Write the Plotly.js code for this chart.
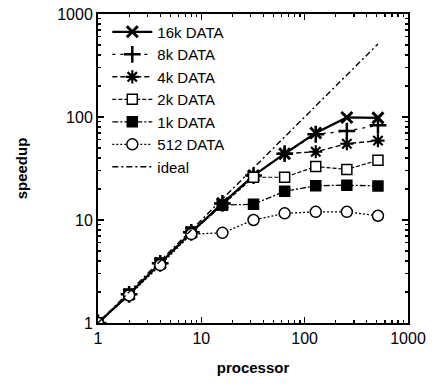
<!DOCTYPE html>
<html><head><meta charset="utf-8">
<script src="https://cdn.plot.ly/plotly-3.0.1.min.js"></script>
<style>html,body{margin:0;padding:0;background:#fff}#chart{width:439px;height:388px}</style>
</head><body><div id="chart"></div>
<script>
const processors = [1, 2, 4, 8, 16, 32, 64, 128, 256, 512];
const speedup16k = [1, 1.9, 3.8, 7.6, 14.5, 27, 44, 70, 99, 98];
const speedup8k  = [1, 1.9, 3.8, 7.6, 14.5, 27, 44, 68, 73, 83];
const speedup4k  = [1, 1.9, 3.8, 7.6, 14.5, 27, 44, 46, 55, 59];
const speedup2k  = [1, 1.9, 3.8, 7.6, 14, 26, 26, 33, 31, 38];
const speedup1k  = [1, 1.9, 3.8, 7.6, 14, 14.2, 19, 21.5, 21.8, 21.4];
const speedup512 = [1, 1.85, 3.65, 7.3, 7.5, 10, 11.6, 12, 12, 11];
const ideal      = [1, 2, 4, 8, 16, 32, 64, 128, 256, 512];
const names = ['16k DATA', '8k DATA', '4k DATA', '2k DATA', '1k DATA', '512 DATA', 'ideal'];

const traces = [
  {y: speedup16k, name: names[0], line: {color: '#000', width: 2.2, dash: 'solid'},
   marker: {symbol: 'x-thin', size: 11, line: {color: '#000', width: 3}}},
  {y: speedup8k, name: names[1], line: {color: '#000', width: 1.3, dash: '3px,5px'},
   marker: {symbol: 'cross-thin', size: 12, line: {color: '#000', width: 2.5}}},
  {y: speedup4k, name: names[2], line: {color: '#000', width: 1.4, dash: '5px,3px'},
   marker: {symbol: 'asterisk', size: 11, line: {color: '#000', width: 2.2}}},
  {y: speedup2k, name: names[3], line: {color: '#000', width: 1.2, dash: '4px,2px'},
   marker: {symbol: 'square', size: 10, color: '#fff', line: {color: '#000', width: 1.5}}},
  {y: speedup1k, name: names[4], line: {color: '#000', width: 1.3, dash: '6px,2px,2px,2px'},
   marker: {symbol: 'square', size: 10, color: '#000', line: {color: '#000', width: 1.5}}},
  {y: speedup512, name: names[5], line: {color: '#000', width: 1.3, dash: '2px,2px'},
   marker: {symbol: 'circle', size: 11, color: '#fff', line: {color: '#000', width: 1.5}}},
  {y: ideal, name: names[6], mode: 'lines', line: {color: '#000', width: 1.4, dash: '6px,3px,2px,3px'}}
].map(t => Object.assign({x: processors, type: 'scatter', mode: t.mode || 'lines+markers'}, t));

const FONT = 'Liberation Sans, Arial, sans-serif';
const axisCommon = {
  type: 'log', dtick: 1, ticks: 'inside', ticklen: 6, tickwidth: 1.2, tickcolor: '#000',
  showline: true, linecolor: '#000', linewidth: 2, mirror: 'ticks', showgrid: false, zeroline: false,
  tickfont: {family: FONT, size: 16, color: '#000'},
  minor: {ticks: 'inside', ticklen: 3, tickcolor: '#000', dtick: 'D1', showgrid: false}
};

const layout = {
  width: 439, height: 388,
  margin: {l: 98, r: 31, t: 14, b: 65},
  paper_bgcolor: '#fff', plot_bgcolor: '#fff',
  showlegend: true,
  legend: {x: 0.03, y: 0.995, xanchor: 'left', yanchor: 'top', bgcolor: 'rgba(255,255,255,0)',
    font: {family: FONT, size: 15, color: '#000'},
    tracegroupgap: 0, itemwidth: 40},
  xaxis: Object.assign({}, axisCommon, {range: [0, 3],
    title: {text: '<b>processor</b>', font: {family: FONT, size: 15, color: '#000'}, standoff: 16}}),
  yaxis: Object.assign({}, axisCommon, {range: [0, 3],
    title: {text: '<b>speedup</b>', font: {family: FONT, size: 15, color: '#000'}, standoff: 26}})
};

Plotly.newPlot('chart', traces, layout, {displayModeBar: false, staticPlot: true});
</script>
</body></html>
